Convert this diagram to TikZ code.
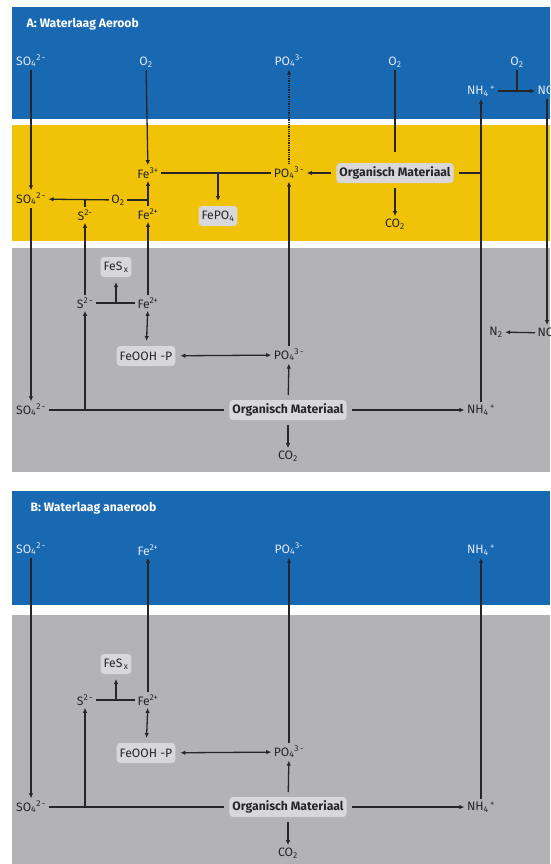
\documentclass[tikz,border=0pt]{standalone}
\usepackage{fontspec}
\setmainfont{Fira Sans}
\usetikzlibrary{arrows.meta}
\definecolor{water}{RGB}{24,104,178}
\definecolor{oxic}{RGB}{241,195,8}
\definecolor{sludge}{RGB}{179,179,182}
\definecolor{boxgray}{RGB}{216,216,219}
\definecolor{ink}{RGB}{38,38,40}
\definecolor{pale}{RGB}{226,233,244}
\newcommand\labsize{\fontsize{12.2}{14}\selectfont}
\tikzset{
  lab/.style={text=ink, inner sep=2pt, font=\labsize},
  wlab/.style={text=pale, inner sep=2pt, font=\labsize},
  ttl/.style={text=white, anchor=west, inner sep=0pt, font=\labsize\bfseries},
  box/.style={fill=boxgray, rounded corners=3.5pt, text=ink, inner sep=3pt,
    outer sep=5pt, minimum height=20pt, font=\labsize},
  arr/.style={-{Latex[length=5pt,width=4.4pt]}},
  dbl/.style={{Latex[length=5pt,width=4.4pt]}-{Latex[length=5pt,width=4.4pt]}},
}
\def\waterA{(12,7) rectangle (550,119)}
\def\oxicA{(12,125) rectangle (550,241)}
\def\sludgeA{(12,248) rectangle (550,472)}
\def\waterB{(12,491) rectangle (550,605)}
\def\sludgeB{(12,615) rectangle (550,864)}
% sediment part, the same in A and B
\newcommand\sediment[1]{%
  \node[box] (#1FeS) at (116,267) {FeS\textsubscript{\,x}};
  \node[lab] (#1S) at (85,303) {S\textsuperscript{2\,-}};
  \node[lab] (#1Fe) at (148,303) {Fe\textsuperscript{2+}};
  \node[box] (#1FeOOH) at (146,356) {FeOOH -P};
  \node[lab] (#1PO) at (289,355) {PO\textsubscript{4}\textsuperscript{3\,-}};
  \node[lab] (#1SO) at (31,410) {SO\textsubscript{4}\textsuperscript{2\,-}};
  \node[box,font=\labsize\bfseries] (#1OM) at (288,410) {Organisch Materiaal};
  \node[lab] (#1CO) at (288,456) {CO\textsubscript{2}};
  \node[lab] (#1NH) at (481,410) {NH\textsubscript{4}\textsuperscript{\,+}};
  \draw (#1S) -- (#1Fe);
  \draw[arr] (#1FeS |- #1S) -- (#1FeS);
  \draw[dbl] (#1Fe) -- (#1FeOOH);
  \draw[dbl] (#1FeOOH) -- (#1PO);
  \draw[arr] (#1OM) -- (#1PO);
  \draw[arr] (#1OM) -- (#1CO);
  \draw[arr] (#1OM) -- (#1NH);
  \draw (#1SO) -- (#1OM);
  \draw[arr] (#1S |- #1SO) -- (#1S);
}

\begin{document}
\begin{tikzpicture}[x=1pt,y=-1pt,line width=1.3pt,color=ink]
\useasboundingbox (0,0) rectangle (550,864);
\fill[water] \waterA;
\fill[oxic] \oxicA;
\fill[sludge] \sludgeA;
\fill[water] \waterB;
\fill[sludge] \sludgeB;

% A: water layer
\node[ttl] (aT) at (26,24) {A: Waterlaag Aeroob};
\node[wlab] (awSO) at (31,61) {SO\textsubscript{4}\textsuperscript{2\,-}};
\node[wlab] (awO) at (146,62) {O\textsubscript{2}};
\node[wlab] (awPO) at (289,61) {PO\textsubscript{4}\textsuperscript{3-}};
\node[wlab] (awOb) at (395,62) {O\textsubscript{2}};
\node[wlab] (awNH) at (481,91) {NH\textsubscript{4}\textsuperscript{\,+}};
\node[wlab] (awOc) at (517,62) {O\textsubscript{2}};
\node[wlab,anchor=west] (awNO) at (535,91) {NO\textsubscript{3}\textsuperscript{-}};

% A: oxic top layer
\node[lab] (aoSO) at (31,199) {SO\textsubscript{4}\textsuperscript{2\,-}};
\node[lab] (aoO) at (118,200) {O\textsubscript{2}};
\node[lab] (aoS) at (85,215) {S\textsuperscript{2-}};
\node[lab] (aoFeIII) at (148,173) {Fe\textsuperscript{3+}};
\node[lab] (aoFe) at (148,214) {Fe\textsuperscript{2+}};
\node[box] (aoFePO) at (218,216) {FePO\textsubscript{4}};
\node[lab] (aoPO) at (289,173) {PO\textsubscript{4}\textsuperscript{3\,-}};
\node[box,font=\labsize\bfseries] (aoOM) at (395,173) {Organisch Materiaal};
\node[lab] (aoCO) at (395,224) {CO\textsubscript{2}};

% A: sediment
\sediment{as}
\node[lab] (asN) at (496,332) {N\textsubscript{2}};
\node[lab,anchor=west] (asNO) at (535,333) {NO\textsubscript{3}\textsuperscript{-}};

\draw[arr] (awSO) -- (aoSO);
\draw[arr] (awO) -- (aoFeIII);
\draw[arr,densely dotted] (aoPO) -- (awPO);
\draw[shorten >=6pt] (awOb) -- (aoOM);
\draw (aoOM) -- (aoOM -| asNH);
\draw[arr] (asNH) -- (awNH);
\draw (awOc) -- (awOc |- awNH);
\draw[arr] (awNH) -- (awNO);
\draw[arr] ([xshift=12pt]awNO.south west) -- ([xshift=12pt]asNO.north west);
\draw[arr] (asNO) -- (asN);
\draw (aoFeIII) -- (aoPO);
\draw[arr] (aoFePO |- aoFeIII) -- (aoFePO);
\draw[arr] (aoOM) -- (aoPO);
\draw[arr] (aoOM) -- (aoCO);
\draw[arr] (aoO) -- (aoSO);
\draw (aoS) -- (aoS |- aoO);
\draw (aoO) -- (aoO -| aoFe);
\draw[arr] (aoFe) -- (aoFeIII);
\draw[arr] (asS) -- (aoS);
\draw[arr] (asFe) -- (aoFe);
\draw[arr] (aoSO) -- (asSO);
\draw[arr] (asPO) -- (aoPO);

% B: water layer
\node[ttl] (bT) at (30,508) {B: Waterlaag anaeroob};
\node[wlab] (bwSO) at (31,549) {SO\textsubscript{4}\textsuperscript{2\,-}};
\node[wlab] (bwFe) at (148,550) {Fe\textsuperscript{2+}};
\node[wlab] (bwPO) at (289,549) {PO\textsubscript{4}\textsuperscript{3-}};
\node[wlab] (bwNH) at (481,550) {NH\textsubscript{4}\textsuperscript{\,+}};

% B: sediment
\begin{scope}[yshift=-397pt]
  \sediment{bs}
\end{scope}
\draw[arr] (bwSO) -- (bsSO);
\draw[arr] (bsFe) -- (bwFe);
\draw[arr] (bsPO) -- (bwPO);
\draw[arr] (bsNH) -- (bwNH);
\end{tikzpicture}
\end{document}
